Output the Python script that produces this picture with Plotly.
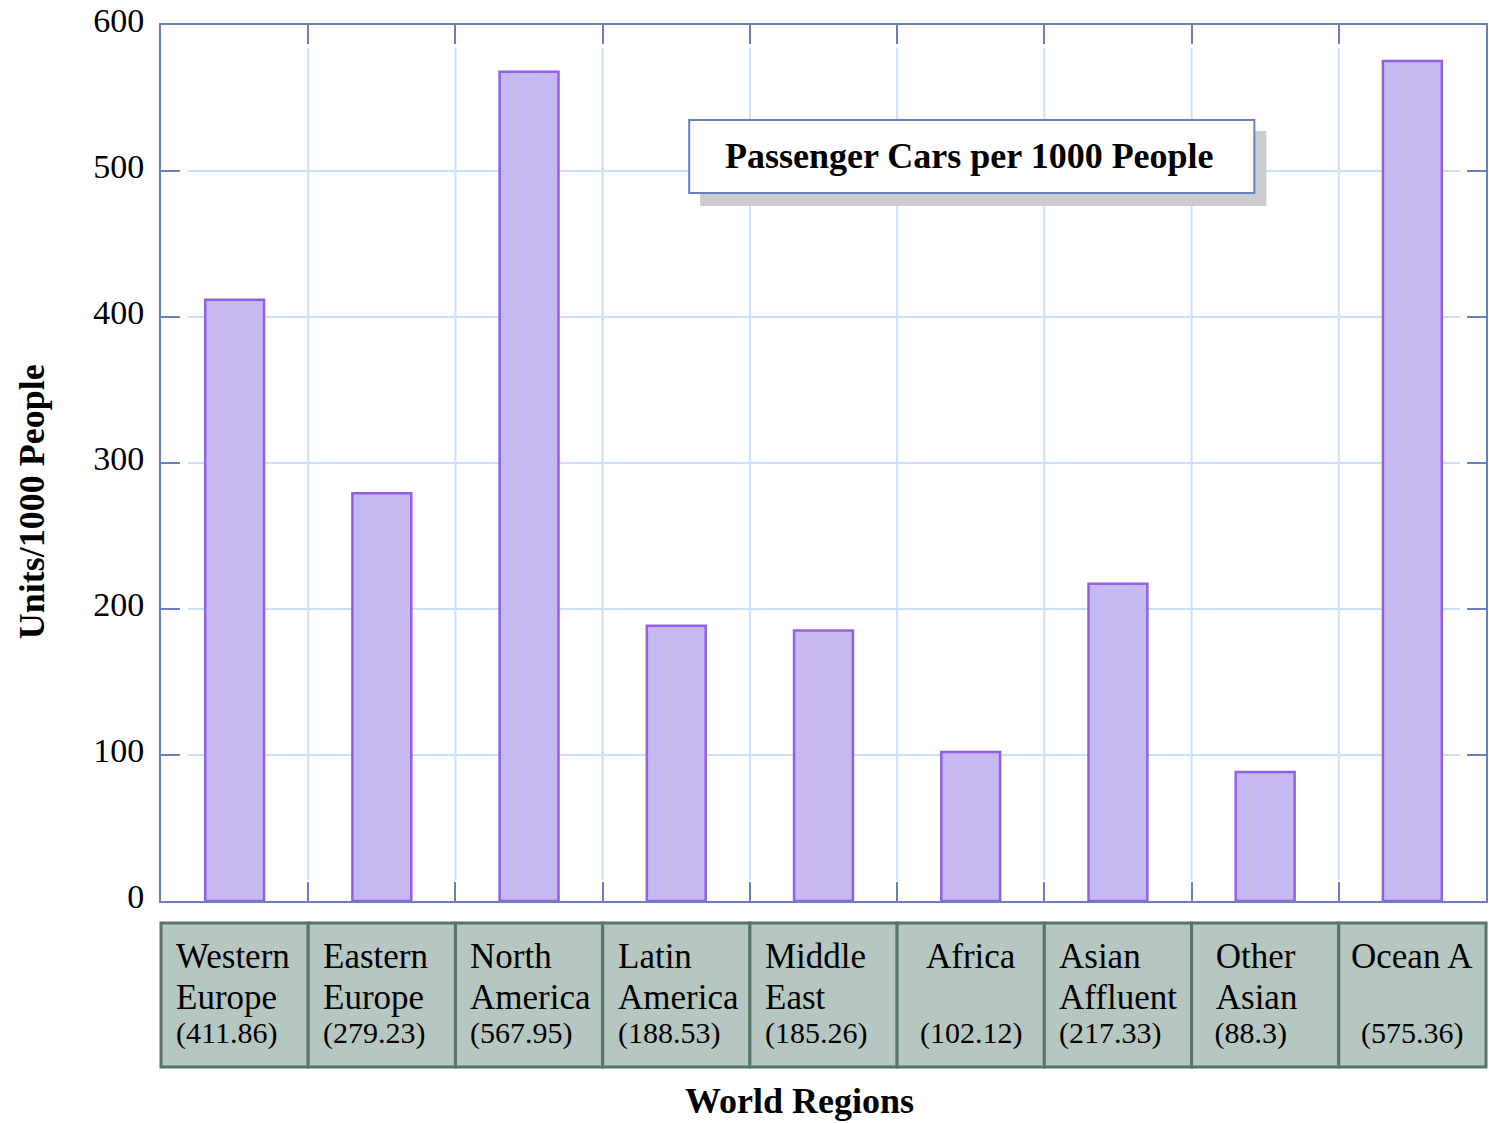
import plotly.graph_objects as go

# Passenger car ownership by world region (units per 1000 people)
regions = ["Western\nEurope", "Eastern\nEurope", "North\nAmerica", "Latin\nAmerica",
           "Middle\nEast", "Africa", "Asian\nAffluent", "\u00a0Other\n\u00a0Asian", "Ocean A"]
cars_per_1000 = [411.86, 279.23, 567.95, 188.53, 185.26, 102.12, 217.33, 88.3, 575.36]
y_ticks = [0, 100, 200, 300, 400, 500, 600]

chart_title = "Passenger Cars per 1000 People"
y_title = "Units/1000 People"
x_title = "World Regions"

FONT = "Liberation Serif"
AXIS_BLUE = "#6a7fc0"
GRID_BLUE = "#cde0fb"
BAR_FILL = "#c6b9f1"
BAR_LINE = "#9061e2"
CELL_FILL = "#b6c6c1"
CELL_LINE = "#587566"

W, H = 1489, 1123
M_L, M_R, M_T, M_B = 161, 1, 25, 222
PW = W - M_L - M_R
PH = H - M_T - M_B


def px_x(px):
    """Horizontal pixel position -> paper coordinate."""
    return (px - M_L) / PW


def px_y(px):
    """Vertical pixel position (from top) -> paper coordinate."""
    return (H - M_B - px) / PH


n = len(regions)
cats = [r.replace("\n", " ").strip("\u00a0") for r in regions]

fig = go.Figure(
    go.Bar(
        x=cats,
        y=cars_per_1000,
        width=0.4,
        marker=dict(color=BAR_FILL, line=dict(color=BAR_LINE, width=2.5)),
        hoverinfo="x+y",
    )
)

shapes = []
# horizontal grid lines, leaving a gap beside the inside ticks
for v in y_ticks[1:-1]:
    shapes.append(dict(type="line", xref="paper", yref="y",
                       x0=27 / PW, x1=1 - 26 / PW, y0=v, y1=v,
                       line=dict(color=GRID_BLUE, width=2), layer="below"))
# vertical grid lines between categories
for i in range(n - 1):
    shapes.append(dict(type="line", xref="x", yref="paper",
                       x0=i + 0.5, x1=i + 0.5, y0=21 / PH, y1=1 - 23 / PH,
                       line=dict(color=GRID_BLUE, width=2), layer="below"))

# title box with drop shadow
shapes.append(dict(type="rect", xref="paper", yref="paper",
                   x0=px_x(701), x1=px_x(1268), y0=px_y(206), y1=px_y(131),
                   fillcolor="#cccccc", line=dict(width=0), layer="above"))
shapes.append(dict(type="rect", xref="paper", yref="paper",
                   x0=px_x(690), x1=px_x(1256), y0=px_y(193), y1=px_y(120),
                   fillcolor="white", line=dict(color=AXIS_BLUE, width=2), layer="above"))

# category table underneath the plot
for i in range(n):
    shapes.append(dict(type="rect", xref="paper", yref="paper",
                       x0=i / n, x1=(i + 1) / n, y0=px_y(1067), y1=px_y(923),
                       fillcolor=CELL_FILL, line=dict(color=CELL_LINE, width=3),
                       layer="above"))

annotations = []
line_y = [px_y(956), px_y(997), px_y(1033)]
for i, (name, val) in enumerate(zip(regions, cars_per_1000)):
    lines = name.split("\n")
    lead = "\u00a0" if name.startswith("\u00a0") else ""
    value_txt = f"{lead}({val})"
    if len(lines) == 1:
        common = dict(xref="paper", yref="paper", x=(i + 0.5) / n,
                      xanchor="center", yanchor="middle", showarrow=False)
        annotations.append(dict(text=lines[0], y=line_y[0],
                                font=dict(family=FONT, size=35, color="black"), **common))
        annotations.append(dict(text=value_txt, y=line_y[2],
                                font=dict(family=FONT, size=30, color="black"), **common))
    else:
        common = dict(xref="paper", yref="paper", x=i / n, xshift=13,
                      xanchor="left", yanchor="middle", showarrow=False)
        for k, ln in enumerate(lines):
            annotations.append(dict(text=ln, y=line_y[k],
                                    font=dict(family=FONT, size=35, color="black"), **common))
        annotations.append(dict(text=value_txt, y=line_y[2],
                                font=dict(family=FONT, size=30, color="black"), **common))

annotations.append(dict(text=f"<b>{chart_title}</b>", xref="paper", yref="paper",
                        x=px_x(971), y=px_y(156), xanchor="center", yanchor="middle",
                        showarrow=False, font=dict(family=FONT, size=36, color="black")))
annotations.append(dict(text=f"<b>{y_title}</b>", xref="paper", yref="paper",
                        x=px_x(32), y=px_y(502), xanchor="center", yanchor="middle",
                        textangle=-90, showarrow=False,
                        font=dict(family=FONT, size=36, color="black")))
annotations.append(dict(text=f"<b>{x_title}</b>", xref="paper", yref="paper",
                        x=px_x(800), y=px_y(1101), xanchor="center", yanchor="middle",
                        showarrow=False, font=dict(family=FONT, size=36, color="black")))

fig.update_layout(
    width=W, height=H,
    margin=dict(l=M_L, r=M_R, t=M_T, b=M_B),
    paper_bgcolor="white", plot_bgcolor="white",
    showlegend=False,
    shapes=shapes,
    annotations=annotations,
    bargap=0.6,
)

fig.update_xaxes(
    type="category", range=[-0.5, n - 0.5],
    showticklabels=False, showgrid=False, zeroline=False,
    tickmode="array", tickvals=[i + 0.5 for i in range(n - 1)],
    ticks="inside", ticklen=19, tickwidth=2, tickcolor=AXIS_BLUE,
    showline=True, linecolor=AXIS_BLUE, linewidth=2, mirror="ticks",
)
fig.update_yaxes(
    range=[0, 600], tickmode="array", tickvals=y_ticks,
    ticks="inside", ticklen=19, tickwidth=2, tickcolor=AXIS_BLUE,
    showgrid=False, zeroline=False,
    showline=True, linecolor=AXIS_BLUE, linewidth=2, mirror="ticks",
    tickfont=dict(family=FONT, size=34, color="black"),
    ticklabelstandoff=8,
    ticklabelshift=-5,
)

fig.write_html("out.html")
